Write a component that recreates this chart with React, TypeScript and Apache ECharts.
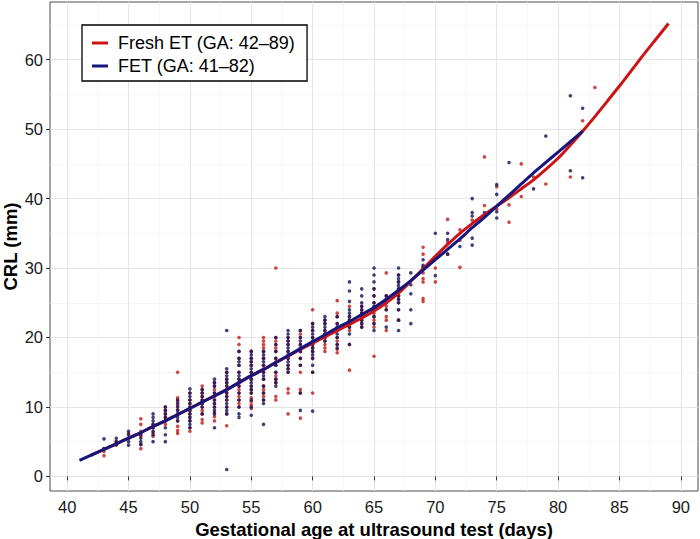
import { useEffect, useRef } from "react";
import * as echarts from "echarts";

// Observed crown-rump length (mm) by gestational day, one row per day
const freshPoints: [number, number[]][] = [
  [42, [3.1]],
  [43, [3.0, 3.6, 4.0]],
  [44, [4.5, 5.0]],
  [45, [5.5, 6.2]],
  [46, [4.0, 4.6, 5.8, 6.5, 7.5, 8.3]],
  [47, [5.8, 6.3, 7.0, 7.5]],
  [48, [7.5, 8.0, 8.5, 9.0, 9.5, 10.0]],
  [49, [6.2, 6.6, 7.2, 8.0, 9.0, 9.6, 10.2, 10.8, 11.3, 15.0]],
  [50, [6.5, 7.0, 8.0, 8.5, 9.0, 9.5, 10.0, 10.5, 11.0, 12.0]],
  [51, [7.7, 8.2, 9.0, 9.5, 10.0, 10.5, 11.0, 11.5, 12.0, 12.5, 13.0]],
  [52, [8.0, 8.6, 9.2, 10.0, 10.5, 11.0, 11.5, 12.0, 12.5, 13.0, 13.5]],
  [53, [7.3, 9.0, 10.0, 11.0, 11.5, 12.0, 12.5, 13.0, 13.5, 14.0, 15.0]],
  [54, [10.0, 10.5, 11.0, 11.5, 12.0, 12.5, 13.0, 14.0, 15.0, 16.0, 17.0, 18.0, 19.0, 20.0]],
  [55, [9.8, 10.3, 10.8, 11.3, 12.0, 12.5, 13.0, 14.0, 15.0, 16.0, 16.5, 17.0, 18.0]],
  [56, [11.0, 11.5, 12.0, 12.5, 13.0, 14.0, 15.0, 15.5, 16.0, 17.0, 18.0, 18.5, 19.0, 19.5, 20.0]],
  [57, [11.0, 11.5, 13.5, 14.0, 14.5, 15.0, 16.0, 16.5, 17.0, 18.0, 18.5, 19.0, 19.5, 20.0, 30.0]],
  [58, [9.0, 12.0, 12.6, 15.0, 15.5, 16.0, 17.0, 18.0, 19.0, 19.5, 20.0]],
  [59, [8.4, 12.0, 12.5, 15.0, 16.0, 17.0, 18.0, 19.0, 20.0, 20.5, 21.0]],
  [60, [12.0, 15.0, 17.0, 18.0, 18.5, 19.0, 20.0, 21.0, 22.0, 24.0]],
  [61, [18.0, 18.5, 19.0, 19.5, 20.0, 20.5, 21.0, 22.0, 22.5]],
  [62, [17.8, 18.3, 19.0, 19.5, 20.0, 21.0, 22.0, 23.0, 23.5, 25.3]],
  [63, [15.3, 19.0, 21.0, 21.5, 22.0, 22.5, 23.0, 24.5]],
  [64, [21.5, 22.0, 22.5, 23.0, 23.5, 24.0, 24.5]],
  [65, [17.3, 21.5, 22.0, 22.5, 23.0, 23.5, 24.0, 25.0, 26.0, 27.0]],
  [66, [21.0, 22.5, 23.0, 24.0, 24.5, 25.0, 26.0, 29.3]],
  [67, [22.5, 24.0, 25.0, 25.5, 26.0, 27.0, 28.0, 29.0]],
  [69, [25.2, 25.6, 28.0, 28.5, 29.3, 30.0, 32.0, 33.0]],
  [70, [28.0, 30.0]],
  [71, [32.0, 33.7, 37.0]],
  [72, [30.1, 34.0, 35.5]],
  [73, [36.9]],
  [74, [39.0, 46.0]],
  [75, [38.5, 41.7]],
  [76, [36.6, 39.1]],
  [77, [40.3, 45.0]],
  [78, [43.1]],
  [79, [42.1]],
  [81, [43.1]],
  [82, [51.2]],
  [83, [56.0]],
];

const fetPoints: [number, number[]][] = [
  [43, [4.0, 5.4]],
  [44, [4.6, 5.0, 5.5]],
  [45, [4.5, 5.0, 5.5, 6.0, 6.5]],
  [46, [4.6, 5.0, 5.5, 6.0]],
  [47, [5.0, 6.0, 6.5, 7.0, 7.5, 8.0, 8.5, 9.0]],
  [48, [5.0, 6.0, 7.0, 8.0, 8.5, 9.0, 9.5, 10.0]],
  [49, [8.0, 8.5, 9.0, 9.5, 10.0, 10.5, 11.0]],
  [50, [7.0, 7.5, 8.0, 8.5, 9.0, 9.5, 10.0, 10.5, 11.0, 11.5, 12.0, 12.6]],
  [51, [9.0, 10.0, 10.5, 11.0, 11.5, 12.0, 12.5]],
  [52, [7.0, 9.0, 9.5, 10.0, 10.5, 11.0, 12.0, 13.0, 13.5, 14.0]],
  [53, [1.0, 9.0, 9.5, 10.0, 10.5, 11.0, 11.5, 12.0, 12.5, 13.0, 13.5, 14.0, 14.5, 15.0, 15.5, 21.0]],
  [54, [8.5, 9.0, 10.0, 11.0, 12.0, 13.0, 13.5, 14.0, 14.5, 15.0, 16.0, 16.5, 17.0, 18.0]],
  [55, [8.8, 10.0, 11.0, 12.0, 12.5, 13.0, 13.5, 14.0, 14.5, 15.0, 15.5, 16.0, 16.5, 17.0, 17.5, 18.0]],
  [56, [7.5, 10.5, 11.0, 12.0, 13.0, 14.0, 14.5, 15.0, 16.0, 16.5, 17.0, 17.5, 18.0]],
  [57, [13.0, 13.5, 14.0, 15.0, 16.0, 17.0, 18.0, 19.0, 20.0]],
  [58, [15.0, 15.5, 16.0, 16.5, 17.0, 17.5, 18.0, 18.5, 19.0, 19.5, 20.0, 20.5, 21.0]],
  [59, [9.5, 12.0, 16.0, 17.0, 18.0, 18.5, 19.0, 19.5, 20.0, 21.0]],
  [60, [9.4, 15.0, 16.0, 17.0, 17.5, 18.0, 18.5, 19.0, 19.5, 20.0, 20.5, 21.0, 21.5, 22.0]],
  [61, [19.5, 20.0, 20.5, 21.0, 21.5, 22.0, 22.5, 23.0]],
  [62, [18.5, 19.0, 20.0, 20.5, 21.0, 21.5, 22.0, 23.0]],
  [63, [19.0, 20.5, 21.5, 22.0, 22.5, 23.0, 23.5, 24.0, 25.2, 26.7, 28.0]],
  [64, [21.5, 22.0, 22.5, 23.0, 23.5, 24.0, 24.5, 25.0, 26.0, 27.0]],
  [65, [21.0, 22.0, 23.0, 24.0, 24.5, 25.0, 26.0, 27.0, 28.0, 29.0, 30.0]],
  [66, [21.5, 24.0, 25.0, 25.5, 26.0]],
  [67, [21.0, 22.5, 24.0, 25.0, 25.5, 26.0, 26.5, 27.0, 27.5, 28.0, 28.5, 29.0, 30.0]],
  [68, [22.0, 24.0, 26.3, 27.6, 29.3]],
  [69, [30.1, 30.4, 31.2]],
  [70, [28.9, 35.0]],
  [71, [32.0, 34.1, 35.0]],
  [72, [33.1]],
  [73, [33.3, 34.3, 37.5, 38.0, 40.0]],
  [74, [38.0]],
  [75, [37.2, 38.1, 40.6, 42.0]],
  [76, [45.2]],
  [78, [41.4]],
  [79, [49.0]],
  [81, [44.0, 54.8]],
  [82, [43.0, 53.0]],
];

// Smoothed growth curves
const freshFitDays = [
  42, 43, 44, 45, 46, 47, 48, 49, 50, 51, 52, 53, 54, 55, 56, 57, 58, 59, 60, 61, 62, 63, 64, 65,
  66, 67, 68, 69, 70, 71, 72, 73, 74, 75, 76, 77, 78, 79, 80, 81, 82, 83, 84, 85, 86, 87, 88, 89,
];
const freshFit = [
  3.1, 3.9, 4.7, 5.5, 6.3, 7.2, 8.0, 8.9, 9.8, 10.7, 11.6, 12.5, 13.5, 14.5, 15.4, 16.4, 17.3, 18.3,
  19.2, 20.1, 21.0, 21.9, 22.8, 23.8, 25.0, 26.4, 28.1, 29.9, 31.7, 33.4, 35.0, 36.4, 37.7, 38.9,
  40.1, 41.4, 42.7, 44.2, 45.8, 47.7, 49.7, 51.8, 54.0, 56.2, 58.5, 60.8, 63.0, 65.2,
];
const fetFitDays = [
  41, 42, 43, 44, 45, 46, 47, 48, 49, 50, 51, 52, 53, 54, 55, 56, 57, 58, 59, 60, 61, 62, 63, 64,
  65, 66, 67, 68, 69, 70, 71, 72, 73, 74, 75, 76, 77, 78, 79, 80, 81, 82,
];
const fetFit = [
  2.3, 3.1, 3.9, 4.7, 5.5, 6.3, 7.2, 8.0, 8.9, 9.8, 10.7, 11.6, 12.5, 13.5, 14.5, 15.4, 16.4, 17.4,
  18.4, 19.4, 20.4, 21.4, 22.3, 23.3, 24.3, 25.5, 26.8, 28.2, 29.7, 31.2, 32.7, 34.2, 35.8, 37.3,
  38.9, 40.5, 42.1, 43.7, 45.2, 46.7, 48.2, 49.7,
];

const xTicks = [40, 45, 50, 55, 60, 65, 70, 75, 80, 85, 90];
const xMinorTicks = [42.5, 47.5, 52.5, 57.5, 62.5, 67.5, 72.5, 77.5, 82.5, 87.5];
const yTicks = [0, 10, 20, 30, 40, 50, 60];
const yMinorTicks = [5, 15, 25, 35, 45, 55, 65];

const FRESH_NAME = "Fresh ET (GA: 42–89)";
const FET_NAME = "FET (GA: 41–82)";
const RED = "#CC1414";
const BLUE = "#16167C";
const FONT = "'Liberation Sans', Arial, Helvetica, sans-serif";

const flatten = (rows: [number, number[]][]) =>
  rows.flatMap(([day, vals]) => vals.map((v) => [day, v]));
const pairs = (xs: number[], ys: number[]) => xs.map((x, i) => [x, ys[i]]);

export default function App() {
  const ref = useRef<HTMLDivElement>(null);

  useEffect(() => {
    if (!ref.current) return;
    const chart = echarts.init(ref.current, null, { renderer: "svg" });

    const X_MIN = 38.6;
    const X_MAX = 91.4;
    const Y_MIN = -2.1;
    const Y_MAX = 68.3;

    const majorSplit = { show: true, lineStyle: { color: "#E4E4E4", width: 1 } };
    const minorSplit = { show: true, lineStyle: { color: "#F2F2F2", width: 0.7 } };

    chart.setOption({
      animation: false,
      backgroundColor: "#FFFFFF",
      textStyle: { fontFamily: FONT },
      grid: {
        left: 50,
        right: 2,
        top: 2,
        bottom: 48,
        containLabel: false,
        outerBoundsMode: "none",
        show: true,
        borderColor: "#4D4D4D",
        borderWidth: 1,
        backgroundColor: "transparent",
      },
      legend: {
        left: 82,
        top: 25,
        orient: "vertical",
        backgroundColor: "#FFFFFF",
        borderColor: "#000000",
        borderWidth: 1.3,
        borderRadius: 0,
        padding: [9, 12, 6, 10],
        itemGap: 5,
        itemWidth: 16,
        itemHeight: 3,
        textStyle: { fontSize: 18, color: "#000000", fontFamily: FONT, padding: [0, 0, 0, 5] },
        data: [
          { name: FRESH_NAME, icon: "rect" },
          { name: FET_NAME, icon: "rect" },
        ],
      },
      xAxis: [
        {
          type: "value",
          min: X_MIN,
          max: X_MAX,
          position: "bottom",
          axisLine: { show: false },
          axisTick: {
            show: true,
            customValues: xTicks,
            length: 4,
            lineStyle: { color: "#333333" },
          },
          axisLabel: {
            customValues: xTicks,
            fontSize: 16.5,
            color: "#1A1A1A",
            margin: 7,
            fontFamily: FONT,
          },
          splitLine: majorSplit,
          name: "Gestational age at ultrasound test (days)",
          nameLocation: "middle",
          nameGap: 27,
          nameTextStyle: { fontSize: 18.5, fontWeight: "bold", color: "#000000", fontFamily: FONT },
        },
        {
          type: "value",
          min: X_MIN,
          max: X_MAX,
          position: "top",
          axisLine: { show: false },
          axisTick: { show: false, customValues: xMinorTicks },
          axisLabel: { show: false, customValues: xMinorTicks },
          splitLine: minorSplit,
        },
      ],
      yAxis: [
        {
          type: "value",
          min: Y_MIN,
          max: Y_MAX,
          position: "left",
          axisLine: { show: false },
          axisTick: {
            show: true,
            customValues: yTicks,
            length: 4,
            lineStyle: { color: "#333333" },
          },
          axisLabel: {
            customValues: yTicks,
            fontSize: 16.5,
            color: "#1A1A1A",
            margin: 7,
            fontFamily: FONT,
          },
          splitLine: majorSplit,
          name: "CRL (mm)",
          nameLocation: "middle",
          nameMoveOverlap: false,
          nameGap: 30,
          nameTextStyle: { fontSize: 18.5, fontWeight: "bold", color: "#000000", fontFamily: FONT },
        },
        {
          type: "value",
          min: Y_MIN,
          max: Y_MAX,
          position: "right",
          axisLine: { show: false },
          axisTick: { show: false, customValues: yMinorTicks },
          axisLabel: { show: false, customValues: yMinorTicks },
          splitLine: minorSplit,
        },
      ],
      series: [
        {
          name: "Fresh ET points",
          type: "scatter",
          data: flatten(freshPoints),
          symbolSize: 3.6,
          itemStyle: { color: "#C01818" },
          silent: true,
          z: 3,
        },
        {
          name: "FET points",
          type: "scatter",
          data: flatten(fetPoints),
          symbolSize: 3.6,
          itemStyle: { color: "#10105A" },
          silent: true,
          z: 3,
        },
        {
          name: FRESH_NAME,
          type: "line",
          data: pairs(freshFitDays, freshFit),
          smooth: 0.25,
          showSymbol: false,
          lineStyle: { color: RED, width: 3 },
          itemStyle: { color: RED },
          silent: true,
          z: 4,
        },
        {
          name: FET_NAME,
          type: "line",
          data: pairs(fetFitDays, fetFit),
          smooth: 0.25,
          showSymbol: false,
          lineStyle: { color: BLUE, width: 3 },
          itemStyle: { color: BLUE },
          silent: true,
          z: 5,
        },
      ],
    });

    return () => chart.dispose();
  }, []);

  return (
    <div
      ref={ref}
      style={{ position: "fixed", left: 0, top: 0, width: 700, height: 539, background: "#fff" }}
    />
  );
}
